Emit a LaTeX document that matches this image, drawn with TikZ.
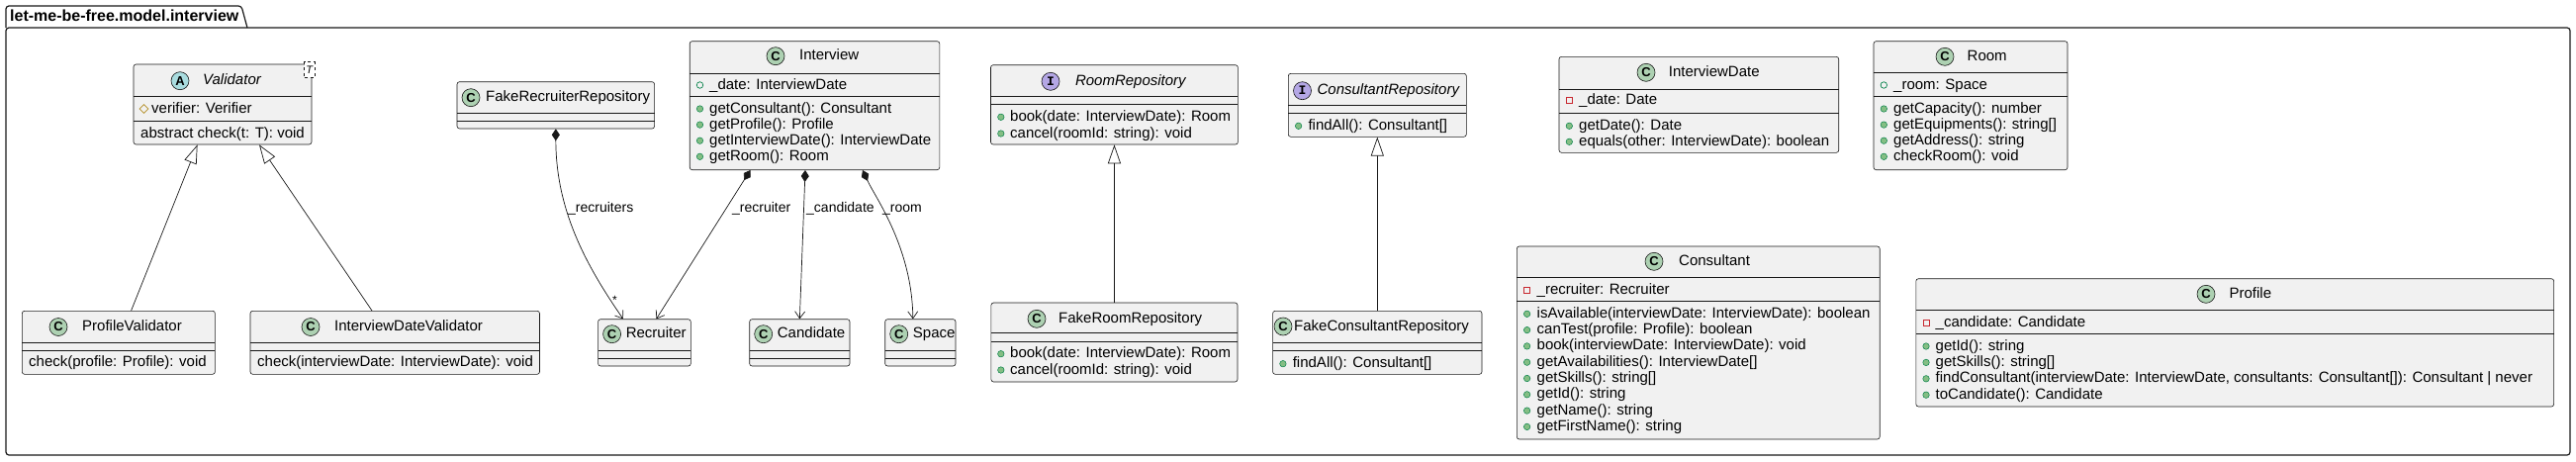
\documentclass[tikz,border=0pt]{standalone}
\usepackage{fontspec}
\setmainfont{Liberation Sans}
\newfontfamily\iconfont{Liberation Mono}
\usetikzlibrary{positioning, arrows.meta, shapes.geometric}
\definecolor{umlfill}{HTML}{F1F1F1}
\definecolor{umlline}{HTML}{181818}
\definecolor{classgreen}{HTML}{ADD1B2}
\definecolor{abstractblue}{HTML}{A9DCDF}
\definecolor{ifacepurple}{HTML}{B4A7E5}
\definecolor{pubfill}{HTML}{84BE84}
\definecolor{publine}{HTML}{038048}
\definecolor{privline}{HTML}{C82930}
\definecolor{protline}{HTML}{B38D22}
\newcommand{\umlclass}[7]{%
  \node[classbox, minimum width={(#4-#2)*1pt}, minimum height={(#5-#3)*1pt}]
    (#1) at ({(#2+#4)/2},{(#3+#5)/2}) {};
  \draw[sepline] (#2,#6) -- (#4,#6) (#2,#7) -- (#4,#7);
}

\begin{document}
\begin{tikzpicture}[x=1pt, y=-1pt,
    classbox/.style={draw=umlline, fill=umlfill, line width=0.6pt, rounded corners=2.5pt, inner sep=0pt},
    sepline/.style={draw=umlline, line width=0.6pt},
    cicon/.style={circle, draw=umlline, line width=0.6pt, minimum size=18pt, inner sep=0pt, font=\fontsize{13}{13}\selectfont\bfseries},
    iicon/.style={cicon, fill=ifacepurple, font=\fontsize{13}{13}\selectfont\iconfont\bfseries},
    txt/.style={anchor=west, inner sep=0pt, font=\fontsize{15}{18}\selectfont, text height=11pt, text depth=3pt},
    itxt/.style={txt, font=\fontsize{15}{18}\selectfont\itshape},
    lbl/.style={anchor=west, inner sep=0pt, font=\fontsize{14}{16}\selectfont, text height=10pt, text depth=3pt},
    pubdot/.style={circle, fill=pubfill, draw=publine, line width=0.5pt, minimum size=6.5pt, inner sep=0pt},
    pubfield/.style={circle, draw=publine, line width=0.7pt, minimum size=6.5pt, inner sep=0pt},
    privfield/.style={rectangle, draw=privline, line width=0.7pt, minimum size=6pt, inner sep=0pt},
    protfield/.style={diamond, draw=protline, line width=0.7pt, minimum size=9pt, inner sep=0pt},
    gen/.style={draw=umlline, line width=0.7pt, -{Triangle[length=19pt, width=13pt, fill=white]}},
    comp/.style={draw=umlline, line width=0.7pt, {Diamond[length=12pt, width=8pt]}-{Straight Barb[length=7pt, width=10pt]}},
    pkg/.style={draw=umlline, line width=1.2pt}]

    \useasboundingbox (0,0) rectangle (2604,466);

    % Package
    \draw[pkg, rounded corners=3pt] (6,28) rectangle (2598,460);
    \draw[pkg, rounded corners=3pt] (6,28) -- (6,6) -- (244,6) -- (250,28);
    \node[txt, font=\fontsize{16}{18}\selectfont\bfseries] (pkgname) at (10,17) {let-me-be-free.model.interview};

    % Validator
    \umlclass{validator}{135}{65}{315}{146}{97.7}{122.3}
    \node[cicon, fill=abstractblue] (validator-c) at (182,81.7) {A};
    \node[itxt] (validator-n) at (205,81.7) {Validator};
    \node[draw=umlline, dashed, fill=white, line width=0.5pt, minimum width=10.4pt, minimum height=15.6pt,
        inner sep=0pt, font=\fontsize{11}{11}\selectfont\itshape] (validator-t) at (312.8,70.5) {T};
    \node[protfield] (validator-i1) at (145.5,110) {};
    \node[txt] (validator-a1) at (153,110) {verifier: Verifier};
    \node[txt] (validator-m1) at (142,135.7) {abstract check(t: T): void};

    \umlclass{profval}{22.3}{314.3}{217.4}{378.3}{346.3}{354}
    \node[cicon, fill=classgreen] (profval-c) at (59,330.5) {C};
    \node[txt] (profval-n) at (83,330.5) {ProfileValidator};
    \node[txt] (profval-m1) at (29,366.7) {check(profile: Profile): void};

    \umlclass{idval}{253}{314.3}{545.5}{378.3}{346.3}{354}
    \node[cicon, fill=classgreen] (idval-c) at (314,330.5) {C};
    \node[txt] (idval-n) at (338,330.5) {InterviewDateValidator};
    \node[txt] (idval-m1) at (260,366.7) {check(interviewDate: InterviewDate): void};

    % Recruiters
    \umlclass{fakerec}{462}{82.7}{661.6}{130}{114.3}{122.3}
    \node[cicon, fill=classgreen] (fakerec-c) at (476,98.7) {C};
    \node[txt] (fakerec-n) at (491,98.7) {FakeRecruiterRepository};

    \foreach \nm/\xa/\xb/\tx in {recruiter/604.6/698.3/Recruiter, candidate/757.7/859/Candidate, space/894.7/966/Space} {
        \umlclass{\nm}{\xa}{322.7}{\xb}{370}{354.3}{362.3}
        \node[cicon, fill=classgreen] (\nm-c) at ({\xa+14},337.7) {C};
        \node[txt] (\nm-n) at ({\xa+28},337.7) {\tx};
    }

    % Interview
    \umlclass{interview}{697.2}{41.7}{949.8}{171.7}{74}{97.7}
    \node[cicon, fill=classgreen] (interview-c) at (784,56.7) {C};
    \node[txt] (interview-n) at (808,56.7) {Interview};
    \node[pubfield] (interview-i0) at (707.5,86) {};
    \node[txt] (interview-a1) at (717,86) {\_date: InterviewDate};
    \foreach \t [count=\i] in {{getConsultant(): Consultant}, {getProfile(): Profile},
        {getInterviewDate(): InterviewDate}, {getRoom(): Room}} {
        \node[pubdot] (interview-i\i) at (707.5,{110+16.1*(\i-1)}) {};
        \node[txt] (interview-m\i) at (717,{110+16.1*(\i-1)}) {\t};
    }

    % Rooms
    \umlclass{roomrepo}{1001.5}{65.7}{1251.4}{146}{97.7}{105.7}
    \node[iicon] (roomrepo-c) at (1062,82.3) {I};
    \node[itxt] (roomrepo-n) at (1086.8,82.3) {RoomRepository};
    \umlclass{fakeroom}{1001.9}{306}{1251}{386}{336.7}{345.7}
    \node[cicon, fill=classgreen] (fakeroom-c) at (1048,322.3) {C};
    \node[txt] (fakeroom-n) at (1070,322.3) {FakeRoomRepository};
    \foreach \t [count=\i] in {{book(date: InterviewDate): Room}, {cancel(roomId: string): void}} {
        \node[pubdot] (roomrepo-i\i) at (1011.8,{118.3+16.7*(\i-1)}) {};
        \node[txt] (roomrepo-m\i) at (1021,{118.3+16.7*(\i-1)}) {\t};
        \node[pubdot] (fakeroom-i\i) at (1011.8,{357.7+16.3*(\i-1)}) {};
        \node[txt] (fakeroom-m\i) at (1021,{357.7+16.3*(\i-1)}) {\t};
    }

    % Consultants
    \umlclass{consrepo}{1302.3}{74.3}{1482.3}{138.3}{106.7}{114.3}
    \node[iicon] (consrepo-c) at (1316.5,91.7) {I};
    \node[itxt] (consrepo-n) at (1331.4,91.7) {ConsultantRepository};
    \node[pubdot] (consrepo-i1) at (1312.6,127.3) {};
    \node[txt] (consrepo-m1) at (1322.3,127.3) {findAll(): Consultant[]};
    \umlclass{fakecons}{1286.6}{314.3}{1498}{378.3}{346.7}{354.3}
    \node[cicon, fill=classgreen] (fakecons-c) at (1297,330) {C};
    \node[txt] (fakecons-n) at (1308,330) {FakeConsultantRepository};
    \node[pubdot] (fakecons-i1) at (1296.9,367.7) {};
    \node[txt] (fakecons-m1) at (1306.6,367.7) {findAll(): Consultant[]};

    \umlclass{consultant}{1533.3}{249}{1900.2}{444}{280.7}{304.3}
    \node[cicon, fill=classgreen] (consultant-c) at (1672,264.3) {C};
    \node[txt] (consultant-n) at (1697,264.3) {Consultant};
    \node[privfield] (consultant-i0) at (1543.6,293.3) {};
    \node[txt] (consultant-a1) at (1553.5,293.3) {\_recruiter: Recruiter};
    \foreach \t [count=\i] in {{isAvailable(interviewDate: InterviewDate): boolean}, {canTest(profile: Profile): boolean},
        {book(interviewDate: InterviewDate): void}, {getAvailabilities(): InterviewDate[]}, {getSkills(): string[]},
        {getId(): string}, {getName(): string}, {getFirstName(): string}} {
        \node[pubdot] (consultant-i\i) at (1543.6,{317.3+16.3*(\i-1)}) {};
        \node[txt] (consultant-m\i) at (1553.5,{317.3+16.3*(\i-1)}) {\t};
    }

    % Dates, room, profile
    \umlclass{intdate}{1576}{57.3}{1858.7}{154.3}{90}{114}
    \node[cicon, fill=classgreen] (intdate-c) at (1664,73.3) {C};
    \node[txt] (intdate-n) at (1686.7,73.3) {InterviewDate};
    \node[privfield] (intdate-i0) at (1586.3,101.7) {};
    \node[txt] (intdate-a1) at (1596,101.7) {\_date: Date};
    \foreach \t [count=\i] in {{getDate(): Date}, {equals(other: InterviewDate): boolean}} {
        \node[pubdot] (intdate-i\i) at (1586.3,{127.3+16*(\i-1)}) {};
        \node[txt] (intdate-m\i) at (1596,{127.3+16*(\i-1)}) {\t};
    }

    \umlclass{room}{1894}{41.7}{2090}{171.7}{73.3}{97.7}
    \node[cicon, fill=classgreen] (room-c) at (1966,57.3) {C};
    \node[txt] (room-n) at (1988.5,57.3) {Room};
    \node[pubfield] (room-i0) at (1904.3,86) {};
    \node[txt] (room-a1) at (1914,86) {\_room: Space};
    \foreach \t [count=\i] in {{getCapacity(): number}, {getEquipments(): string[]},
        {getAddress(): string}, {checkRoom(): void}} {
        \node[pubdot] (room-i\i) at (1904.3,{110+16.1*(\i-1)}) {};
        \node[txt] (room-m\i) at (1914,{110+16.1*(\i-1)}) {\t};
    }

    \umlclass{profile}{1936.8}{281.7}{2581.6}{411}{313.3}{337.3}
    \node[cicon, fill=classgreen] (profile-c) at (2230,297.3) {C};
    \node[txt] (profile-n) at (2253.4,297.3) {Profile};
    \node[privfield] (profile-i0) at (1947,326.7) {};
    \node[txt] (profile-a1) at (1956.5,326.7) {\_candidate: Candidate};
    \foreach \t [count=\i] in {{getId(): string}, {getSkills(): string[]},
        {findConsultant(interviewDate: InterviewDate, consultants: Consultant[]): Consultant | never},
        {toCandidate(): Candidate}} {
        \node[pubdot] (profile-i\i) at (1947,{350+16.4*(\i-1)}) {};
        \node[txt] (profile-m\i) at (1956.5,{350+16.4*(\i-1)}) {\t};
    }

    % Inheritance
    \draw[gen] ([xshift=12.75pt]profval.north) -- ([xshift=-25.4pt]validator.south);
    \draw[gen] ([xshift=-23.25pt]idval.north) -- ([xshift=37pt]validator.south);
    \draw[gen] (fakeroom.north) -- (roomrepo.south);
    \draw[gen] (fakecons.north) -- (consrepo.south);

    % Composition
    \draw[comp] (fakerec.south) .. controls (562,210) and (590,265) .. ([xshift=-21.5pt]recruiter.north);
    \draw[comp] ([xshift=-65pt]interview.south) -- ([xshift=12pt]recruiter.north);
    \draw[comp] ([xshift=-9.5pt]interview.south) -- (candidate.north);
    \draw[comp] ([xshift=48.5pt]interview.south) .. controls (885,200) and (922,250) .. ([xshift=-7.5pt]space.north);
    \node[lbl] (lbl-recruiters) at (574,210.7) {\_recruiters};
    \node[lbl, font=\fontsize{12}{12}\selectfont] (lbl-many) at (619,304) {*};
    \node[lbl] (lbl-recruiter) at (740,210.7) {\_recruiter};
    \node[lbl] (lbl-candidate) at (815,210.7) {\_candidate};
    \node[lbl] (lbl-room) at (892,210.7) {\_room};
\end{tikzpicture}
\end{document}
